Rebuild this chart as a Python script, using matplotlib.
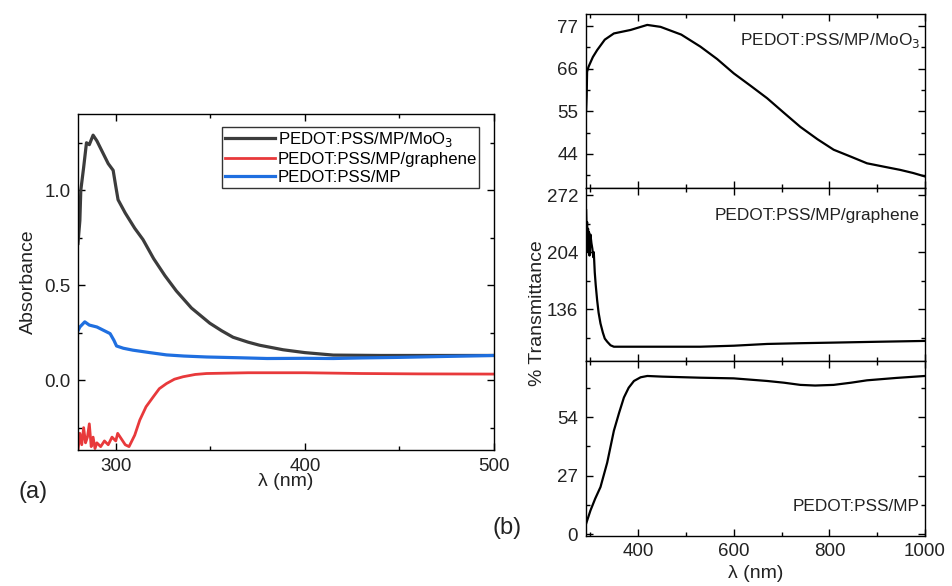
import numpy as np
import matplotlib
matplotlib.use("Agg")
import matplotlib.pyplot as plt

plt.rcParams["font.family"] = ["Liberation Sans", "DejaVu Sans"]
plt.rcParams["xtick.direction"] = "in"
plt.rcParams["ytick.direction"] = "in"

# (a) Absorbance spectra
wl_moo3 = [280, 281, 281.5, 283, 284.5, 286, 288, 290, 293, 296, 298.6, 300, 301.2, 305, 310,
           314.4, 320, 326, 332, 340, 349.7, 356, 362, 370, 376, 388.5, 400, 415, 440, 470, 500]
abs_moo3 = [0.72, 0.84, 1.0, 1.12, 1.25, 1.24, 1.29, 1.26, 1.2, 1.14, 1.105, 1.02, 0.95, 0.88, 0.8,
            0.74, 0.64, 0.55, 0.47, 0.38, 0.30, 0.26, 0.226, 0.20, 0.184, 0.16, 0.145, 0.132, 0.13, 0.13, 0.13]

wl_mp = [280, 281, 283.6, 286, 290, 294, 297, 299, 300.4, 304, 309, 318, 326.8, 336, 348,
         365, 380, 400, 415, 430, 450, 475, 500]
abs_mp = [0.26, 0.28, 0.307, 0.29, 0.28, 0.26, 0.245, 0.21, 0.18, 0.168, 0.158, 0.145, 0.133, 0.127, 0.122,
          0.118, 0.114, 0.115, 0.114, 0.117, 0.12, 0.125, 0.13]

wl_gr = [280, 281, 282, 283, 284, 285, 286, 287, 288, 289, 290, 292, 294, 296, 298, 300, 301,
         303, 305, 307, 308, 310, 312.7, 316, 319.8, 323, 326.8, 331, 335.6, 342, 348, 370, 400, 430, 460, 500]
abs_gr = [-0.37, -0.28, -0.34, -0.25, -0.33, -0.3, -0.23, -0.35, -0.3, -0.36, -0.33, -0.35, -0.32, -0.34,
          -0.3, -0.32, -0.28, -0.31, -0.34, -0.35, -0.33, -0.29, -0.21, -0.14, -0.088, -0.045, -0.018,
          0.005, 0.018, 0.03, 0.035, 0.039, 0.039, 0.035, 0.033, 0.032]

# (b) Transmittance spectra
wl_t = [291, 292, 293, 296, 305, 314, 330, 349, 384, 418.8, 446.6, 490, 530, 565, 599.8, 635,
        669.5, 705, 739, 775, 808.8, 845, 878.5, 915, 948, 975, 1000]
t_moo3 = [55.4, 58.8, 65.2, 66.5, 69.0, 70.8, 73.5, 75.1, 76.0, 77.3, 76.8, 74.8, 71.7, 68.5, 64.8, 61.6,
          58.4, 54.6, 51.0, 47.8, 45.1, 43.3, 41.6, 40.7, 39.9, 39.1, 38.2]

wl_t_gr = [291, 292, 293, 294, 295, 296, 297, 298, 300, 302, 304, 306, 307, 309, 311, 314, 317,
           321, 326, 330, 335, 342, 349, 400, 530, 600, 669.6, 740, 808.8, 900, 1000]
t_gr = [254, 226, 240, 205, 232, 210, 228, 200, 225, 215, 208, 198, 204, 180, 165, 146.7, 132,
        119, 108, 101, 97.3, 93, 91.3, 91.3, 91.3, 92.5, 94.6, 95.5, 96.2, 97.2, 98.2]

wl_t_mp = [291, 300, 310, 321, 335, 349, 360, 370, 380, 391, 405, 419, 450, 530, 599.8, 669.6,
           705, 739, 770, 808.8, 845, 878.5, 940, 1000]
t_mp = [5, 11, 16.5, 21.8, 33, 47.7, 56, 63, 67.5, 70.6, 72.3, 72.9, 72.6, 72.1, 71.8, 70.6,
        69.8, 68.8, 68.5, 68.8, 69.8, 70.9, 72.0, 72.9]

fig = plt.figure(figsize=(9.52, 5.86), dpi=100)
txt = "#222222"

def style(ax):
    ax.tick_params(which="both", top=True, right=True, labelsize=13.5, colors="black",
                   labelcolor=txt, pad=5.5)
    ax.tick_params(which="major", length=5, width=1)
    ax.tick_params(which="minor", length=3, width=1)
    for s in ax.spines.values():
        s.set_linewidth(1)

# panel (a)
ax = fig.add_axes([0.0819, 0.232, 0.437, 0.573])
ax.plot(wl_moo3, abs_moo3, color="#3c3c3c", lw=2.3, label="PEDOT:PSS/MP/MoO$_3$")
ax.plot(wl_gr, abs_gr, color="#e8393b", lw=2.0, label="PEDOT:PSS/MP/graphene")
ax.plot(wl_mp, abs_mp, color="#1f6fe0", lw=2.3, label="PEDOT:PSS/MP")
ax.set_xlim(280, 500)
ax.set_ylim(-0.368, 1.4)
ax.set_xticks([300, 400, 500])
ax.set_xticks([350, 450], minor=True)
ax.set_yticks([0.0, 0.5, 1.0])
ax.set_yticks([-0.25, 0.25, 0.75, 1.25], minor=True)
style(ax)
ax.set_ylabel("Absorbance", fontsize=14, color=txt, labelpad=5)
ax.set_xlabel("λ (nm)", fontsize=14, color=txt, labelpad=-1)
leg = ax.legend(loc="upper right", bbox_to_anchor=(0.965, 0.962), fontsize=12.1, frameon=True,
                fancybox=False, edgecolor="black", borderpad=0.15, handlelength=3.0,
                handletextpad=0.15, labelspacing=0.2, borderaxespad=0)
leg.get_frame().set_linewidth(1)
fig.text(33 / 952, 1 - 492 / 586, "(a)", fontsize=17, ha="center", va="center", color=txt)

# panel (b)
ax1 = fig.add_axes([0.6152, 0.679, 0.3565, 0.297])
ax2 = fig.add_axes([0.6152, 0.384, 0.3565, 0.295], sharex=ax1)
ax3 = fig.add_axes([0.6152, 0.0858, 0.3565, 0.2982], sharex=ax1)

ax1.plot(wl_t, t_moo3, color="black", lw=1.6)
ax1.set_ylim(35.2, 80.1)
ax1.set_yticks([44, 55, 66, 77])
ax1.set_yticks([38.5, 49.5, 60.5, 71.5], minor=True)

ax2.plot(wl_t_gr, t_gr, color="black", lw=1.6)
ax2.set_ylim(74.3, 280.4)
ax2.set_yticks([136, 204, 272])
ax2.set_yticks([102, 170, 238], minor=True)

ax3.plot(wl_t_mp, t_mp, color="black", lw=1.6)
ax3.set_ylim(-0.6, 79.8)
ax3.set_yticks([0, 27, 54])
ax3.set_yticks([13.5, 40.5, 67.5], minor=True)

ax3.set_xlim(290, 1000)
ax3.set_xticks([400, 600, 800, 1000])
ax3.set_xticks([300, 500, 700, 900], minor=True)

for a in (ax1, ax2, ax3):
    style(a)
for a in (ax1, ax2):
    a.tick_params(labelbottom=False)

ax1.text(0.985, 0.85, "PEDOT:PSS/MP/MoO$_3$", transform=ax1.transAxes, ha="right", va="center",
         fontsize=12.4, color=txt)
ax2.text(0.985, 0.84, "PEDOT:PSS/MP/graphene", transform=ax2.transAxes, ha="right", va="center",
         fontsize=12.4, color=txt)
ax3.text(0.985, 0.17, "PEDOT:PSS/MP", transform=ax3.transAxes, ha="right", va="center",
         fontsize=12.4, color=txt)

ax3.set_xlabel("λ (nm)", fontsize=14, color=txt, labelpad=3)
fig.text(537 / 952, 1 - 313 / 586, "% Transmittance", rotation=90, fontsize=14,
         ha="center", va="center", color=txt)
fig.text(507 / 952, 1 - 528 / 586, "(b)", fontsize=17, ha="center", va="center", color=txt)

fig.savefig("out.png", dpi=100)
